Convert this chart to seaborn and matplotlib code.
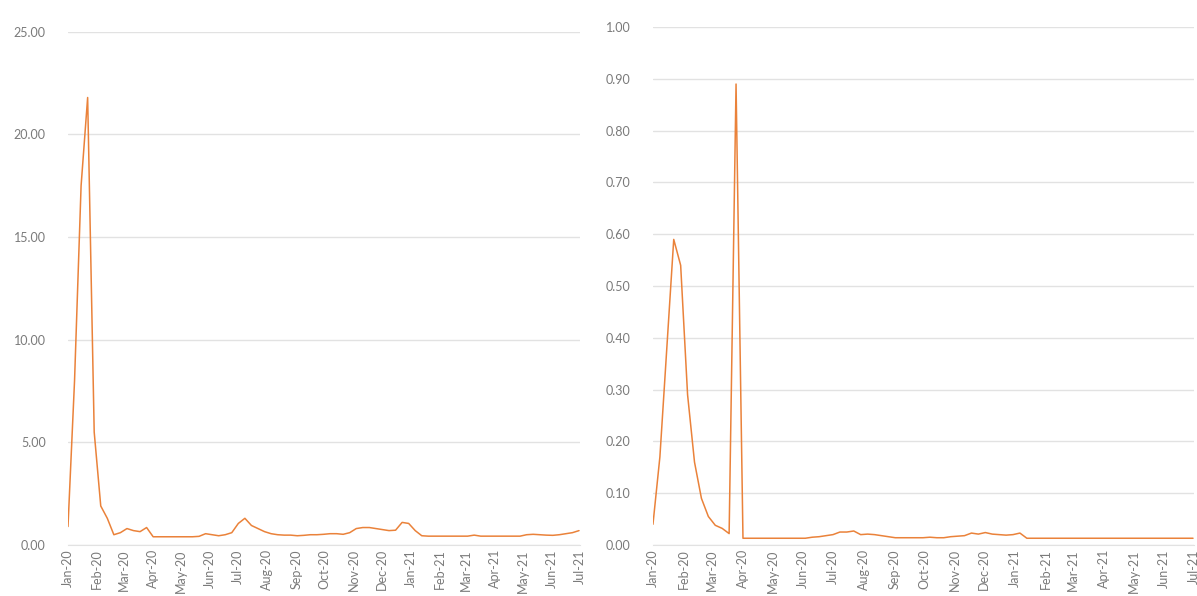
import pandas as pd
import matplotlib
matplotlib.use("Agg")
import matplotlib.pyplot as plt
import matplotlib.dates as mdates
from matplotlib.ticker import FormatStrFormatter
import seaborn as sns

# weekly observations, Jan-2020 .. end Jun-2021
start_date = "2020-01-01"
n_weeks = 79

left_values = [
    0.9, 8.0, 17.5, 21.8, 5.5, 1.9, 1.3, 0.5, 0.6, 0.8,
    0.7, 0.65, 0.85, 0.4, 0.4, 0.4, 0.4, 0.4, 0.4, 0.4,
    0.42, 0.55, 0.5, 0.45, 0.5, 0.6, 1.05, 1.3, 0.95, 0.8,
    0.65, 0.55, 0.5, 0.48, 0.48, 0.45, 0.47, 0.5, 0.5, 0.52,
    0.55, 0.55, 0.52, 0.6, 0.8, 0.85, 0.85, 0.8, 0.75, 0.7,
    0.72, 1.1, 1.05, 0.7, 0.45, 0.43, 0.43, 0.43, 0.43, 0.43,
    0.43, 0.43, 0.48, 0.43, 0.43, 0.43, 0.43, 0.43, 0.43, 0.43,
    0.5, 0.52, 0.5, 0.48, 0.47, 0.5, 0.55, 0.6, 0.7,
]

right_values = [
    0.04, 0.17, 0.38, 0.59, 0.54, 0.29, 0.16, 0.09, 0.055, 0.038,
    0.032, 0.022, 0.89, 0.013, 0.013, 0.013, 0.013, 0.013, 0.013, 0.013,
    0.013, 0.013, 0.013, 0.015, 0.016, 0.018, 0.02, 0.025, 0.025, 0.027,
    0.02, 0.021, 0.02, 0.018, 0.016, 0.014, 0.014, 0.014, 0.014, 0.014,
    0.015, 0.014, 0.014, 0.016, 0.017, 0.018, 0.023, 0.021, 0.024, 0.021,
    0.02, 0.019, 0.02, 0.023, 0.013, 0.013, 0.013, 0.013, 0.013, 0.013,
    0.013, 0.013, 0.013, 0.013, 0.013, 0.013, 0.013, 0.013, 0.013, 0.013,
    0.013, 0.013, 0.013, 0.013, 0.013, 0.013, 0.013, 0.013, 0.013,
]

dates = pd.date_range(start_date, periods=n_weeks, freq="7D")
df = pd.DataFrame({"date": dates, "left": left_values, "right": right_values})

sns.set_style("white")
plt.rcParams["font.family"] = ["Lato", "DejaVu Sans"]

line_color = "#EA823A"
grid_color = "#e2e2e2"
text_color = "#7a7a7a"

fig = plt.figure(figsize=(11.97, 5.96), dpi=100)
ax1 = fig.add_axes([0.0568, 0.0856, 0.4277, 0.861])
ax2 = fig.add_axes([0.5455, 0.0856, 0.452, 0.869])

for ax, col, ymax, step in [(ax1, "left", 25, 5), (ax2, "right", 1.0, 0.1)]:
    sns.lineplot(data=df, x="date", y=col, ax=ax, color=line_color, linewidth=1.1)
    ax.set_ylim(0, ymax)
    ax.set_yticks([i * step for i in range(round(ymax / step) + 1)])
    ax.yaxis.set_major_formatter(FormatStrFormatter("%.2f"))
    ax.set_xlim(pd.Timestamp("2020-01-01"), pd.Timestamp("2021-07-01"))
    ax.xaxis.set_major_locator(mdates.MonthLocator())
    ax.xaxis.set_major_formatter(mdates.DateFormatter("%b-%y"))
    ax.grid(axis="y", color=grid_color, linewidth=1)
    ax.set_axisbelow(True)
    for s in ["top", "right", "left"]:
        ax.spines[s].set_visible(False)
    ax.spines["bottom"].set_color(grid_color)
    ax.tick_params(axis="y", length=0, pad=16, labelsize=9, labelcolor=text_color)
    ax.tick_params(axis="x", length=0, pad=3, labelsize=9, labelcolor=text_color,
                   labelrotation=90)
    ax.set_xlabel("")
    ax.set_ylabel("")

fig.savefig("out.png", dpi=100)
